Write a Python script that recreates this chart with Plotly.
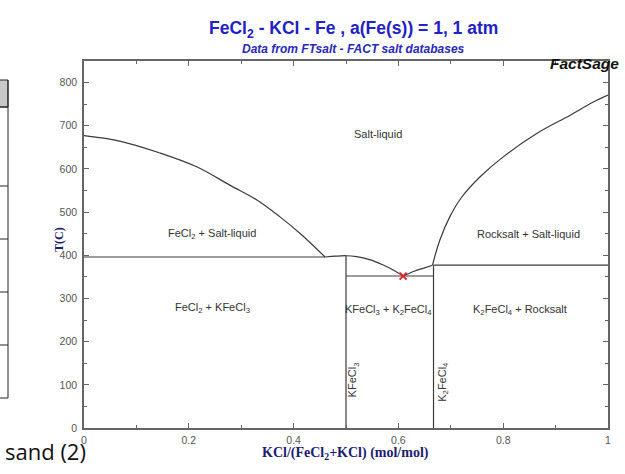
import plotly.graph_objects as go

# ---- data ----
liq_left_x = [0, 0.07, 0.145, 0.215, 0.279, 0.33, 0.374, 0.412, 0.46]
liq_left_T = [677, 664, 637, 605, 562, 528, 489, 451, 396]

kfecl3_liq_x = [0.46, 0.48, 0.5, 0.52, 0.545, 0.57, 0.59, 0.609]
kfecl3_liq_T = [396, 398, 399, 397, 390, 378, 366, 352]

k2fecl4_liq_x = [0.609, 0.63, 0.65, 0.665]
k2fecl4_liq_T = [352, 363, 371, 377]

rock_liq_x = [0.665, 0.679, 0.698, 0.721, 0.756, 0.8, 0.864, 0.927, 0.972, 1.0]
rock_liq_T = [377, 435, 489, 535, 582, 628, 682, 724, 755, 771]

eut_left_x = [0, 0.46]
eut_left_T = [396, 396]
eut_mid_x = [0.5, 0.667]
eut_mid_T = [352, 352]
per_right_x = [0.667, 1.0]
per_right_T = [377, 377]
kfecl3_line_x = [0.5, 0.5]
kfecl3_line_T = [0, 399]
k2fecl4_line_x = [0.667, 0.667]
k2fecl4_line_T = [0, 377]

eutectic_x = [0.609]
eutectic_T = [352]

region_labels = ["Salt-liquid", "FeCl<sub>2</sub> + Salt-liquid", "Rocksalt + Salt-liquid",
                 "FeCl<sub>2</sub> + KFeCl<sub>3</sub>", "KFeCl<sub>3</sub> + K<sub>2</sub>FeCl<sub>4</sub>",
                 "K<sub>2</sub>FeCl<sub>4</sub> + Rocksalt"]
region_x = [0.561, 0.244, 0.848, 0.246, 0.581, 0.832]
region_T = [680, 450, 449, 278, 273, 273]

compound_labels = ["KFeCl<sub>3</sub>", "K<sub>2</sub>FeCl<sub>4</sub>"]
compound_x = [0.514, 0.685]
compound_T = [111, 107]

x_tickvals = [0, 0.2, 0.4, 0.6, 0.8, 1]
x_ticktext = ["0", "0.2", "0.4", "0.6", "0.8", "1"]
y_tickvals = [0, 100, 200, 300, 400, 500, 600, 700, 800]

# ---- figure ----
W, H = 625, 474
L, R, T, B = 84, 608, 61, 428
LINE = "#3a3a3a"

def px(xp):
    return (xp - L) / (R - L)

def py(yp):
    return (B - yp) / (B - T)

fig = go.Figure()
for xs, ts in [(liq_left_x, liq_left_T), (kfecl3_liq_x, kfecl3_liq_T), (k2fecl4_liq_x, k2fecl4_liq_T),
               (rock_liq_x, rock_liq_T), (eut_left_x, eut_left_T), (eut_mid_x, eut_mid_T),
               (per_right_x, per_right_T), (kfecl3_line_x, kfecl3_line_T), (k2fecl4_line_x, k2fecl4_line_T)]:
    fig.add_trace(go.Scatter(x=xs, y=ts, mode="lines", line=dict(color=LINE, width=1.2),
                             line_shape="spline", hoverinfo="skip", showlegend=False))

fig.add_trace(go.Scatter(x=eutectic_x, y=eutectic_T, mode="markers",
                         marker=dict(symbol="x-thin", size=7, line=dict(color="#e02020", width=1.8)),
                         showlegend=False))

LBL_FONT = dict(family="Liberation Sans, Arial", size=11, color="#333333")
for lab, x, t in zip(region_labels, region_x, region_T):
    fig.add_annotation(x=x, y=t, text=lab, showarrow=False, font=LBL_FONT)
for lab, x, t in zip(compound_labels, compound_x, compound_T):
    fig.add_annotation(x=x, y=t, text=lab, showarrow=False, textangle=-90, font=LBL_FONT)

# titles
fig.add_annotation(xref="paper", yref="paper", x=px(353), y=py(16), text="<b>FeCl<sub>2</sub> - KCl - Fe , a(Fe(s)) = 1, 1 atm</b>",
                   showarrow=False, font=dict(family="Liberation Sans, Arial", size=17.5, color="#2121c4"))
fig.add_annotation(xref="paper", yref="paper", x=px(353), y=py(40), text="<b><i>Data from FTsalt - FACT salt databases</i></b>",
                   showarrow=False, font=dict(family="Liberation Sans, Arial", size=12, color="#2828b8"))
fig.add_annotation(xref="paper", yref="paper", x=px(621), y=py(53), xanchor="right", text="<b><i>FactSage</i></b>",
                   showarrow=False, font=dict(family="Liberation Sans, Arial", size=15.5, color="#111111"))
fig.add_annotation(xref="paper", yref="paper", x=px(50), y=py(240), text="<b>T(C)</b>", textangle=-90,
                   showarrow=False, font=dict(family="Liberation Serif, Times New Roman", size=12, color="#1c1c70"))
fig.add_annotation(xref="paper", yref="paper", x=px(345), y=py(464), text="<b>KCl/(FeCl<sub>2</sub>+KCl) (mol/mol)</b>",
                   showarrow=False, font=dict(family="Liberation Serif, Times New Roman", size=14, color="#1c1c70"))

# left-side fragment of a neighbouring slide (table + text)
fig.add_shape(type="rect", xref="paper", yref="paper", x0=px(-2), x1=px(8), y0=py(107), y1=py(80),
              fillcolor="#c8c8c8", line=dict(color="#222222", width=1))
for yl in [107, 186, 239, 292, 345, 398]:
    fig.add_shape(type="line", xref="paper", yref="paper", x0=px(-2), x1=px(8), y0=py(yl), y1=py(yl),
                  line=dict(color="#222222", width=1))
fig.add_shape(type="line", xref="paper", yref="paper", x0=px(8), x1=px(8), y0=py(80), y1=py(398),
              line=dict(color="#222222", width=1))
fig.add_annotation(xref="paper", yref="paper", x=px(88), y=py(468), xanchor="right", text="sand (2)",
                   showarrow=False, font=dict(family="Open Sans, Noto Sans", size=22, color="#111111"))

axis_common = dict(showline=True, linecolor="#666666", linewidth=1.5, mirror="ticks",
                   ticks="inside", ticklen=5, tickcolor="#666666", showgrid=False, zeroline=False,
                   tickfont=dict(family="Liberation Sans, Arial", size=10.5, color="#555555"))
fig.update_xaxes(range=[0, 1], tickvals=x_tickvals, ticktext=x_ticktext, ticklabelstandoff=2,
                 minor=dict(dtick=0.1, ticks="inside", ticklen=3, tickcolor="#666666"), **axis_common)
fig.update_yaxes(range=[0, 850], tickvals=y_tickvals, ticklabelstandoff=3,
                 minor=dict(dtick=50, ticks="inside", ticklen=3, tickcolor="#666666"), **axis_common)

fig.update_layout(width=W, height=H, margin=dict(l=L, r=W - R, t=T, b=H - B),
                  plot_bgcolor="white", paper_bgcolor="white", showlegend=False)

fig.write_html("out.html", config={"displayModeBar": False},
               post_script="document.body.style.margin='0';document.body.style.overflow='hidden';")
